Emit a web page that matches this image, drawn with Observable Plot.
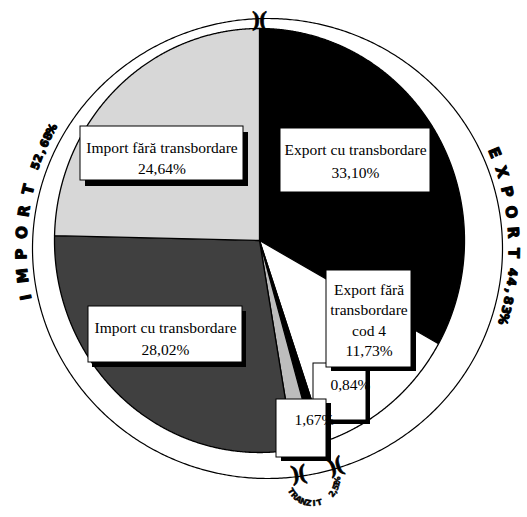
<!DOCTYPE html>
<html><head><meta charset="utf-8">
<script src="https://cdn.jsdelivr.net/npm/d3@7"></script>
<script src="https://cdn.jsdelivr.net/npm/@observablehq/plot@0.6"></script>
<style>body{margin:0;background:#fff}</style>
</head><body><div id="chart"></div>
<script>
// ---------- DATA ----------
const categories = ["Export cu transbordare", "Export fără transbordare cod 4", "Tranzit 1", "Tranzit 2", "Import cu transbordare", "Import fără transbordare"];
const values = [33.10, 11.73, 0.84, 1.67, 28.02, 24.64];
const valueLabels = ["33,10%", "11,73%", "0,84%", "1,67%", "28,02%", "24,64%"];
const labelNames = ["Export cu transbordare", "Export fără\ntransbordare\ncod 4", "", "", "Import cu transbordare", "Import fără transbordare"];
const groups = ["EXPORT", "TRANZIT", "IMPORT"];
const groupValues = ["44,83%", "2,51%", "52,68%"];
const groupSlices = [2, 2, 2];

// ---------- STYLE / LAYOUT ----------
const W = 527, H = 517;
const colors = ["#000000", "#ffffff", "#000000", "#bdbdbd", "#404040", "#d7d7d7"];
const pie = {cx: 259, cy: 240, rx: 205, ry: 212};
const ring = {cx: 267, cy: 248, rx: 235, ry: 230};
const textRing = {cx: 267, cy: 248, rx: 246, ry: 248};
const smallRing = {cx: 312, cy: 478, rx: 25, ry: 25};
// label boxes in draw order: slice index, box, text centre, shadow offset
const boxes = [
  {i: 0, x1: 280, y1: 128, x2: 430, y2: 192, tx: 355, ty: 159, sdx: 5, sdy: 5, lh: 1.45},
  {i: 5, x1: 80, y1: 126, x2: 243, y2: 180, tx: 161.5, ty: 156, sdx: 5, sdy: 6, lh: 1.4},
  {i: 4, x1: 88, y1: 306, x2: 242, y2: 362, tx: 165, ty: 336.5, sdx: 4, sdy: 5, lh: 1.4},
  {i: 2, x1: 313, y1: 363, x2: 366, y2: 420, tx: 350, ty: 383, sdx: 4, sdy: 4, lh: 1.4},
  {i: 1, x1: 326, y1: 270, x2: 411, y2: 367, tx: 368.5, ty: 318.5, sdx: 5, sdy: 4, lh: 1.32},
  {i: 3, x1: 276, y1: 399, x2: 326, y2: 457, tx: 314, ty: 418, sdx: 5, sdy: 4, lh: 1.4}
];
// group label placement along rings (degrees clockwise from top)
const groupText = [
  {ring: textRing, dir: 1, wordStart: 67.3, wordStep: 4.75, numStart: 95.5, numStep: 2.2, wordSize: 15, numSize: 12},
  {ring: smallRing, dir: -1, wordStart: 239, wordStep: 12.5, numStart: 128, numStep: 8.5, wordSize: 8, numSize: 8},
  {ring: textRing, dir: 1, wordStart: 258.7, wordStep: 5.0, numStart: 289.5, numStep: 1.85, wordSize: 15, numSize: 11}
];

// ---------- GEOMETRY ----------
const rad = d => d * Math.PI / 180;
const ellPt = (c, a) => [c.cx + c.rx * Math.sin(rad(a)), c.cy - c.ry * Math.cos(rad(a))];
const total = d3.sum(values);
const cum = [0];
values.forEach((v, i) => cum.push(cum[i] + v / total * 360));

const slicePts = [];
values.forEach((v, i) => {
  const a0 = cum[i], a1 = cum[i + 1];
  slicePts.push({k: i, x: pie.cx, y: pie.cy});
  const n = Math.max(2, Math.ceil((a1 - a0) / 0.25));
  for (let j = 0; j <= n; j++) {
    const [x, y] = ellPt(pie, a0 + (a1 - a0) * j / n);
    slicePts.push({k: i, x, y});
  }
  slicePts.push({k: i, x: pie.cx, y: pie.cy});
});

const ringPts = d3.range(0, 360.5, 0.5).map(a => { const [x, y] = ellPt(ring, a); return {x, y}; });

// group boundary markers: ray from pie centre hits ring
const bounds = [];
let s = 0;
groupSlices.forEach(n => { bounds.push(cum[s]); s += n; });
const markers = bounds.map(a => {
  const dx = Math.sin(rad(a)), dy = -Math.cos(rad(a));
  const ox = (pie.cx - ring.cx) / ring.rx, oy = (pie.cy - ring.cy) / ring.ry;
  const ux = dx / ring.rx, uy = dy / ring.ry;
  const A = ux * ux + uy * uy, B = 2 * (ox * ux + oy * uy), C = ox * ox + oy * oy - 1;
  const t = (-B + Math.sqrt(B * B - 4 * A * C)) / (2 * A);
  return {x: pie.cx + t * dx, y: pie.cy + t * dy, r: a};
});

const chars = [];
groups.forEach((g, gi) => {
  const L = groupText[gi];
  const place = (str, start, step, size) => {
    [...str].forEach((ch, j) => {
      const a = start + L.dir * step * j;
      const [x, y] = ellPt(L.ring, a);
      chars.push({ch, x, y, rotate: L.dir > 0 ? a : a + 180, size});
    });
  };
  place(g, L.wordStart, L.wordStep, L.wordSize);
  place(groupValues[gi], L.numStart, L.numStep, L.numSize);
});

// ---------- MARKS ----------
const marks = [];
values.forEach((v, i) => {
  marks.push(Plot.line(slicePts.filter(d => d.k === i), {
    x: "x", y: "y", fill: colors[i], stroke: "#000", strokeWidth: 1.3, curve: "linear"
  }));
});
marks.push(Plot.line(ringPts, {x: "x", y: "y", stroke: "#000", strokeWidth: 1.2}));

boxes.forEach(b => {
  const d = [b];
  marks.push(Plot.rect(d, {x1: d => d.x1 + d.sdx, x2: d => d.x2 + d.sdx, y1: d => d.y1 + d.sdy, y2: d => d.y2 + d.sdy, fill: "#000"}));
  marks.push(Plot.rect(d, {x1: "x1", x2: "x2", y1: "y1", y2: "y2", fill: "#fff", stroke: "#000", strokeWidth: 1}));
  const txt = labelNames[b.i] ? labelNames[b.i] + "\n" + valueLabels[b.i] : valueLabels[b.i];
  marks.push(Plot.text(d, {x: "tx", y: "ty", text: () => txt, fontFamily: "Liberation Serif", fontSize: 15.5,
    fill: "#000", textAnchor: "middle", lineAnchor: "middle", lineHeight: b.lh}));
});

marks.push(Plot.text(markers, {x: "x", y: "y", rotate: "r", text: () => ")(", fontFamily: "Liberation Serif",
  fontWeight: "bold", fontSize: 22, fill: "#000", stroke: "#000", strokeWidth: 0.8, textAnchor: "middle", lineAnchor: "middle"}));

[8, 11, 12, 15].forEach(sz => {
  marks.push(Plot.text(chars.filter(c => c.size === sz), {x: "x", y: "y", text: "ch", rotate: "rotate",
    fontFamily: "DejaVu Sans", fontWeight: "bold", fontSize: sz, fill: "#000", stroke: "#000", strokeWidth: sz > 8 ? 1.1 : 0.5,
    textAnchor: "middle", lineAnchor: "middle"}));
});

const chart = Plot.plot({
  width: W, height: H, margin: 0,
  x: {domain: [0, W], range: [0, W], axis: null},
  y: {domain: [0, H], range: [0, H], axis: null},
  style: {background: "#fff"},
  marks
});
document.getElementById("chart").appendChild(chart);
</script>
</body></html>
